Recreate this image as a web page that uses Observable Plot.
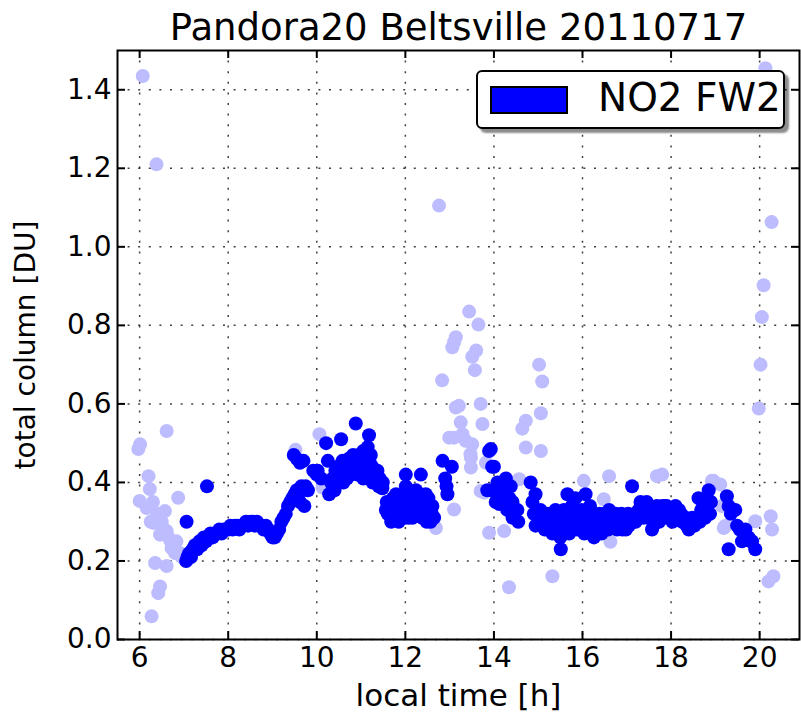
<!DOCTYPE html>
<html>
<head>
<meta charset="utf-8">
<script src="https://cdn.jsdelivr.net/npm/d3@7"></script>
<script src="https://cdn.jsdelivr.net/npm/@observablehq/plot@0.6"></script>
<style>
  html, body { margin: 0; padding: 0; background: #fff; }
  #wrap { position: relative; width: 801px; height: 717px; font-family: "DejaVu Sans", sans-serif; }
  #legend { position: absolute; left: 476px; top: 70px; width: 305px; height: 55px; border: 2px solid #000; border-radius: 6px; background: #fff; box-shadow: 4px 4px 2px rgba(0,0,0,0.45); }
  #swatch { position: absolute; left: 12px; top: 14px; width: 74px; height: 24px; background: #0000ff; border: 2px solid #000; }
  #ltext { position: absolute; left: 120px; top: 3px; font-size: 39px; line-height: 46px; color: #000; white-space: nowrap; }
</style>
</head>
<body>
<div id="wrap"></div>
<script>
const titleText = "Pandora20 Beltsville 20110717";
const xLabel = "local time [h]";
const yLabel = "total column [DU]";
const legendLabel = "NO2 FW2";
const xTicks = [6, 8, 10, 12, 14, 16, 18, 20];
const yTicks = [0.0, 0.2, 0.4, 0.6, 0.8, 1.0, 1.2, 1.4];

// dark (filtered) series: local time [h]
const darkTime = [
  7.05, 7.08, 7.12, 7.16, 7.2, 7.25, 7.3, 7.35, 7.4, 7.45, 7.5, 7.55, 7.6, 7.65, 7.7, 7.75, 7.8, 7.85, 7.9, 7.95,
  8.0, 8.05, 8.1, 8.15, 8.2, 8.25, 8.3, 8.35, 8.4, 8.45, 8.5, 8.55, 8.6, 8.65, 8.7, 8.75, 8.8, 8.85, 8.9, 8.95,
  9.0, 9.05, 9.1, 9.15, 9.2, 9.25, 9.3, 9.35, 9.4, 9.45, 9.5, 9.55, 9.6, 9.65, 7.06, 7.52,
  9.48, 9.55, 9.62, 9.7,
  9.62, 9.68, 9.72, 9.75, 9.8, 9.92, 10.0, 10.02, 10.1, 10.21, 10.25, 10.28, 10.32, 10.36, 10.42, 10.48, 10.55, 10.58,
  10.6, 10.65, 10.7, 10.75, 10.8, 10.85, 10.88, 10.9, 10.95, 11.0, 11.05, 11.1, 11.15, 11.18, 11.2, 11.22, 11.26, 11.3,
  11.37, 11.42, 11.49, 11.48, 10.95, 11.05, 11.1,
  10.4, 10.5, 10.68, 10.72, 10.78, 10.82, 10.92, 11.02, 11.08, 11.12, 11.25, 11.34, 11.4,
  11.56, 11.6, 11.65, 11.7, 11.75, 11.79, 11.82, 11.88, 11.9, 11.95, 12.01, 12.01, 12.05, 12.09, 12.12, 12.16, 12.2,
  12.24, 12.3, 12.35, 12.4, 12.46, 12.5, 12.55, 12.57, 12.61, 12.65,
  11.58, 11.68, 11.72, 11.85, 11.92, 11.98, 12.07, 12.14, 12.18, 12.27, 12.33, 12.38, 12.43, 12.48, 12.52, 12.6,
  12.84, 12.9, 12.95, 12.93, 13.05,
  13.89, 13.93, 13.96, 14.0, 13.85, 13.93, 14.04, 14.12, 14.2, 14.27, 14.35, 14.42, 14.42, 14.5, 14.53, 14.55,
  14.08, 14.15, 14.3, 14.38, 14.46,
  14.83, 14.87, 14.9, 14.94, 14.94, 15.0, 15.1, 15.2, 15.28, 15.35, 15.39, 15.45, 15.47, 15.51, 15.55, 15.6, 15.66,
  15.73, 15.78, 15.84, 15.88, 15.95, 16.0, 16.07, 16.1, 16.14, 16.2, 16.26, 16.3,
  15.05, 15.15, 15.25, 15.32, 15.42, 15.5, 15.58, 15.63, 15.7, 15.76, 15.82, 15.9, 15.98, 16.04, 16.12, 16.17, 16.23,
  16.35, 16.4, 16.45, 16.52, 16.58, 16.62, 16.68, 16.75, 16.8, 16.85, 16.9, 16.95, 17.0, 17.05, 17.12, 17.15, 17.2,
  17.27, 17.31, 17.35, 17.42, 17.48, 17.52, 17.57, 17.62, 17.65, 17.7, 17.75, 17.8, 17.87, 17.92, 17.98, 18.03, 18.1,
  18.15, 18.2, 18.25, 18.3, 18.35, 18.4, 18.45, 18.5, 18.55, 18.6, 18.65, 18.7, 18.77, 18.62, 18.72, 18.8, 18.85,
  16.33, 16.38, 16.43, 16.49, 16.55, 16.6, 16.65, 16.72, 16.78, 16.83, 16.88, 16.93, 16.98, 17.03, 17.08, 17.18, 17.24,
  17.38, 17.45, 17.55, 17.6, 17.68, 17.73, 17.78, 17.84, 17.9, 17.95, 18.0, 18.06, 18.12, 18.18, 18.23, 18.28, 18.33,
  18.38, 18.43, 18.48, 18.53, 18.58, 18.68, 18.75, 18.82, 18.88, 18.9,
  19.26, 19.3, 19.35, 19.4, 19.45, 19.49, 19.55, 19.6, 19.65, 19.68, 19.75, 19.8, 19.83, 19.9, 19.3
];
// dark series: total column [DU]
const darkValue = [
  0.20, 0.21, 0.22, 0.21, 0.23, 0.24, 0.23, 0.25, 0.24, 0.26, 0.25, 0.26, 0.27, 0.26, 0.27, 0.27, 0.28, 0.27, 0.28, 0.28,
  0.28, 0.29, 0.28, 0.29, 0.29, 0.28, 0.29, 0.29, 0.30, 0.29, 0.30, 0.30, 0.29, 0.30, 0.29, 0.29, 0.28, 0.29, 0.28, 0.27,
  0.26, 0.26, 0.27, 0.28, 0.30, 0.31, 0.32, 0.34, 0.35, 0.36, 0.37, 0.38, 0.38, 0.39, 0.30, 0.39,
  0.47, 0.46, 0.45, 0.455,
  0.35, 0.38, 0.34, 0.39, 0.38, 0.43, 0.42, 0.43, 0.41, 0.50, 0.455, 0.37, 0.40, 0.41, 0.43, 0.44, 0.51, 0.455,
  0.40, 0.42, 0.44, 0.45, 0.43, 0.46, 0.55, 0.44, 0.47, 0.45, 0.48, 0.46, 0.49, 0.52, 0.45, 0.47, 0.40, 0.42,
  0.43, 0.41, 0.40, 0.385, 0.42, 0.41, 0.43,
  0.38, 0.40, 0.41, 0.46, 0.42, 0.47, 0.42, 0.44, 0.45, 0.42, 0.44, 0.41, 0.39,
  0.33, 0.32, 0.35, 0.34, 0.31, 0.37, 0.33, 0.35, 0.31, 0.33, 0.42, 0.39, 0.34, 0.34, 0.32, 0.31, 0.35,
  0.38, 0.35, 0.42, 0.36, 0.37, 0.34, 0.32, 0.30, 0.34, 0.31,
  0.35, 0.30, 0.36, 0.30, 0.36, 0.31, 0.31, 0.36, 0.33, 0.32, 0.33, 0.31, 0.33, 0.30, 0.36, 0.32,
  0.455, 0.41, 0.37, 0.39, 0.44,
  0.48, 0.485, 0.44, 0.44, 0.38, 0.38, 0.35, 0.345, 0.38, 0.41, 0.36, 0.35, 0.31, 0.33, 0.33, 0.30,
  0.40, 0.36, 0.33, 0.39, 0.32,
  0.40, 0.35, 0.32, 0.37, 0.29, 0.31, 0.30, 0.32, 0.29, 0.30, 0.33, 0.29, 0.27, 0.23, 0.28, 0.30, 0.37,
  0.32, 0.30, 0.36, 0.28, 0.30, 0.29, 0.37, 0.31, 0.32, 0.29, 0.26, 0.30,
  0.33, 0.28, 0.31, 0.27, 0.31, 0.26, 0.33, 0.29, 0.27, 0.34, 0.31, 0.32, 0.33, 0.27, 0.28, 0.34, 0.31,
  0.31, 0.29, 0.30, 0.30, 0.28, 0.31, 0.29, 0.32, 0.30, 0.29, 0.28, 0.30, 0.31, 0.29, 0.39, 0.30, 0.30,
  0.33, 0.35, 0.34, 0.32, 0.33, 0.31, 0.28, 0.30, 0.33, 0.31, 0.33, 0.34, 0.34, 0.32, 0.33, 0.30, 0.34,
  0.32, 0.31, 0.30, 0.30, 0.29, 0.28, 0.29, 0.30, 0.30, 0.31, 0.30, 0.31, 0.31, 0.36, 0.35, 0.36, 0.38,
  0.28, 0.32, 0.27, 0.32, 0.31, 0.33, 0.32, 0.30, 0.28, 0.31, 0.32, 0.29, 0.28, 0.32, 0.31, 0.32, 0.31,
  0.31, 0.35, 0.32, 0.29, 0.34, 0.30, 0.32, 0.31, 0.34, 0.31, 0.33, 0.33, 0.31, 0.33, 0.32, 0.31, 0.31,
  0.30, 0.30, 0.31, 0.29, 0.30, 0.33, 0.32, 0.33, 0.32, 0.35,
  0.365, 0.34, 0.32, 0.33, 0.33, 0.29, 0.28, 0.25, 0.27, 0.28, 0.26, 0.25, 0.25, 0.23, 0.23
];

// light (unfiltered) series
const lightTime = [
  5.97, 6.01, 6.0, 6.07, 6.16, 6.2, 6.23, 6.27, 6.31, 6.35, 6.38, 6.42, 6.46, 6.46, 6.5, 6.55, 6.57, 6.61, 6.61, 6.61,
  6.65, 6.7, 6.72, 6.75, 6.8, 6.83, 6.87, 6.91, 6.95, 6.4, 6.3, 6.25,
  9.52, 9.95, 10.06, 10.13,
  12.69, 12.76, 12.83, 13.1, 13.06, 13.14, 13.44, 13.65, 13.6, 13.51, 13.57, 13.21, 13.7, 13.14, 13.25, 13.29, 13.1,
  13.36, 12.99, 13.51, 13.47, 13.48, 13.48, 13.74, 13.82, 13.1, 13.7, 13.78, 13.89, 14.23, 14.34, 14.57, 14.64, 14.72,
  14.72, 15.02, 15.09, 15.06, 15.06, 15.32, 16.03, 16.6, 16.48, 16.63, 17.68, 17.8, 18.92, 18.96, 19.11, 19.15, 19.19,
  19.22, 19.9, 19.98, 20.02, 20.05, 20.09, 20.13, 20.27, 20.25, 20.28, 20.2, 20.31
];
const lightValue = [
  0.485, 0.497, 0.353, 1.435, 0.335, 0.416, 0.383, 0.059, 0.297, 0.195, 1.21, 0.118, 0.135, 0.267, 0.30, 0.28, 0.327, 0.531, 0.276, 0.187,
  0.26, 0.25, 0.233, 0.24, 0.22, 0.25, 0.361, 0.22, 0.21, 0.32, 0.35, 0.30,
  0.483, 0.425, 0.523, 0.387,
  0.284, 1.105, 0.66, 0.757, 0.744, 0.77, 0.835, 0.802, 0.736, 0.72, 0.686, 0.595, 0.60, 0.591, 0.553, 0.523, 0.514,
  0.506, 0.514, 0.497, 0.472, 0.463, 0.438, 0.549, 0.45, 0.331, 0.378, 0.374, 0.272, 0.276, 0.133, 0.408, 0.537, 0.557,
  0.489, 0.70, 0.657, 0.576, 0.48, 0.161, 0.404, 0.416, 0.357, 0.249, 0.416, 0.42, 0.404, 0.404, 0.395, 0.34, 0.284,
  0.289, 0.301, 0.588, 0.70, 0.821, 0.902, 1.455, 1.063, 0.314, 0.28, 0.148, 0.161
];

const dark = darkTime.map((t, i) => ({t, v: darkValue[i]}));
const light = lightTime.map((t, i) => ({t, v: lightValue[i]}));

const W = 801, H = 717, mL = 117, mR = 2, mT = 50, mB = 78;
const innerH = H - mT - mB, innerW = W - mL - mR;
const tick = 8;

const chart = Plot.plot({
  width: W, height: H,
  marginLeft: mL, marginRight: mR, marginTop: mT, marginBottom: mB,
  style: {fontFamily: "DejaVu Sans", fontSize: "28px", color: "#000", background: "#fff"},
  x: {domain: [5.5, 20.9]},
  y: {domain: [0, 1.5]},
  marks: [
    Plot.gridX(xTicks, {stroke: "#000", strokeOpacity: 0.75, strokeWidth: 1.5, strokeDasharray: "2,8.6"}),
    Plot.gridY(yTicks, {stroke: "#000", strokeOpacity: 0.75, strokeWidth: 1.5, strokeDasharray: "2,8.6"}),
    Plot.dot(light, {x: "t", y: "v", r: 7, fill: "#bcbcff", stroke: "none", clip: true}),
    Plot.dot(dark, {x: "t", y: "v", r: 7, fill: "#0000ff", stroke: "none", clip: true}),
    Plot.tickX(xTicks, {x: d => d, stroke: "#000", strokeWidth: 2, insetTop: innerH - tick}),
    Plot.tickX(xTicks, {x: d => d, stroke: "#000", strokeWidth: 2, insetBottom: innerH - tick}),
    Plot.tickY(yTicks, {y: d => d, stroke: "#000", strokeWidth: 2, insetRight: innerW - tick}),
    Plot.tickY(yTicks, {y: d => d, stroke: "#000", strokeWidth: 2, insetLeft: innerW - tick}),
    Plot.frame({stroke: "#000", strokeWidth: 2}),
    Plot.axisX({ticks: xTicks, tickSize: 0, tickPadding: 8, fontSize: 28, tickFormat: d => String(d), label: null}),
    Plot.text([xLabel], {frameAnchor: "bottom", dy: 66, lineAnchor: "bottom", fontSize: 31, fill: "#000"}),
    Plot.axisY({ticks: yTicks, tickSize: 0, tickPadding: 6, fontSize: 28, tickFormat: d3.format(".1f"),
      label: yLabel, labelAnchor: "center", labelArrow: "none", labelOffset: 102}),
    Plot.text([titleText], {frameAnchor: "top", dy: -11, lineAnchor: "bottom", fontSize: 37, fill: "#000"})
  ]
});

const wrap = document.getElementById("wrap");
wrap.appendChild(chart);
const leg = document.createElement("div");
leg.id = "legend";
leg.innerHTML = '<div id="swatch"></div><div id="ltext"></div>';
wrap.appendChild(leg);
document.getElementById("ltext").textContent = legendLabel;
</script>
</body>
</html>
